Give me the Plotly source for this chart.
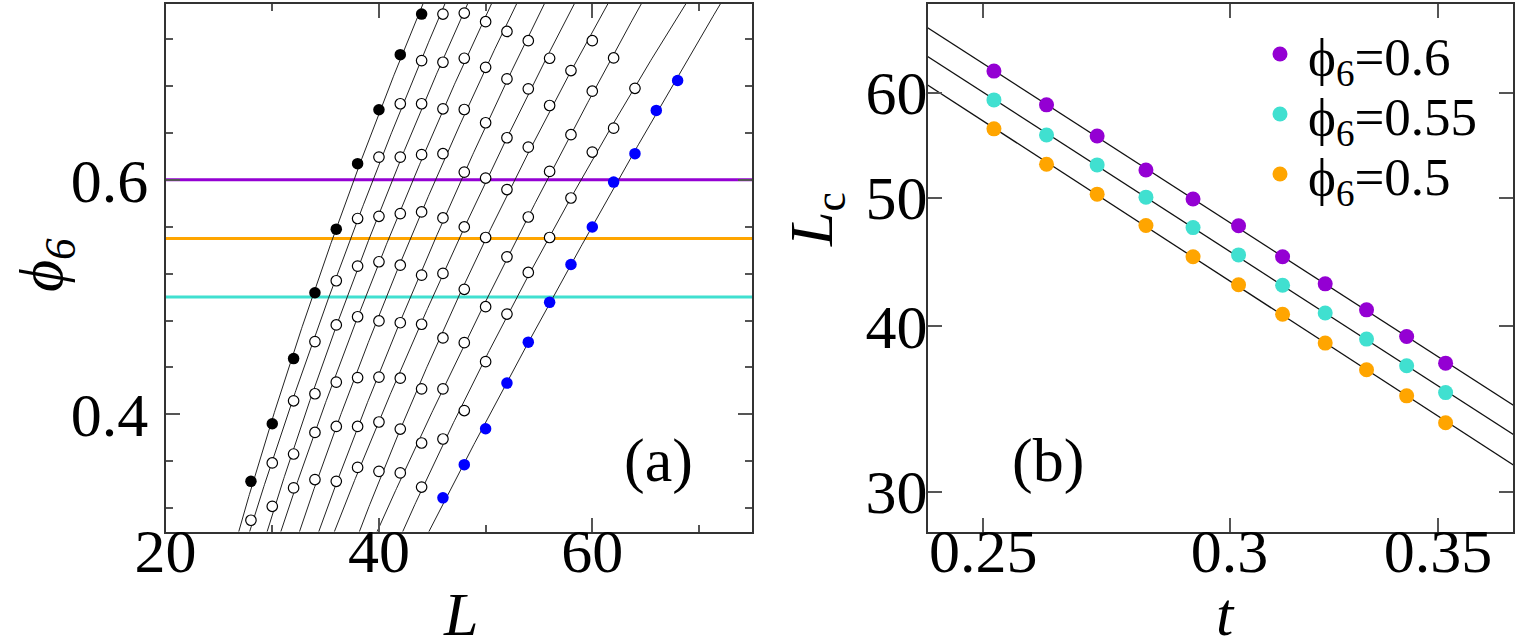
import numpy as np
import plotly.graph_objects as go

# ---------------- Panel (a): phi6 vs L for 11 temperatures ----------------
# t = 0.252 (blue filled) ... 0.352 (black filled); open circles in between
L_t0252 = [46, 48, 50, 52, 54, 56, 58, 60, 62, 64, 66, 68]
phi_t0252 = [0.3287, 0.3570, 0.3877, 0.4266, 0.4615, 0.4955, 0.5278, 0.5598, 0.5981, 0.6223, 0.6592, 0.6847]
L_t0262 = [44, 46, 48, 50, 52, 54, 56, 58, 60, 62, 64]
phi_t0262 = [0.3379, 0.3789, 0.4032, 0.4449, 0.4855, 0.5210, 0.5508, 0.5845, 0.6237, 0.6441, 0.6781]
L_t0272 = [42, 44, 46, 48, 50, 52, 54, 56, 58, 60, 62]
phi_t0272 = [0.3500, 0.3755, 0.4217, 0.4611, 0.4918, 0.5343, 0.5683, 0.6072, 0.6385, 0.6756, 0.7040]
L_t0282 = [40, 42, 44, 46, 48, 50, 52, 54, 56, 58, 60]
phi_t0282 = [0.3513, 0.3874, 0.4217, 0.4651, 0.5066, 0.5508, 0.5917, 0.6279, 0.6634, 0.6932, 0.7187]
L_t0292 = [38, 40, 42, 44, 46, 48, 50, 52, 54, 56]
phi_t0292 = [0.3547, 0.3934, 0.4308, 0.4768, 0.5202, 0.5598, 0.6015, 0.6359, 0.6776, 0.7037]
L_t0302 = [36, 38, 40, 42, 44, 46, 48, 50, 52, 54]
phi_t0302 = [0.3428, 0.3896, 0.4317, 0.4781, 0.5187, 0.5675, 0.6066, 0.6487, 0.6861, 0.7187]
L_t0312 = [34, 36, 38, 40, 42, 44, 46, 48, 50, 52]
phi_t0312 = [0.3443, 0.3896, 0.4313, 0.4796, 0.5272, 0.5726, 0.6223, 0.6600, 0.6960, 0.7266]
L_t0322 = [32, 34, 36, 38, 40, 42, 44, 46, 48, 50]
phi_t0322 = [0.3372, 0.3845, 0.4274, 0.4832, 0.5301, 0.5712, 0.6215, 0.6606, 0.7037, 0.7349]
L_t0332 = [30, 32, 34, 36, 38, 40, 42, 44, 46, 48]
phi_t0332 = [0.3215, 0.3661, 0.4175, 0.4762, 0.5264, 0.5689, 0.6194, 0.6649, 0.7003, 0.7423]
L_t0342 = [28, 30, 32, 34, 36, 38, 40, 42, 44, 46]
phi_t0342 = [0.3096, 0.3585, 0.4115, 0.4620, 0.5139, 0.5670, 0.6194, 0.6649, 0.7017, 0.7414]
L_t0352 = [28, 30, 32, 34, 36, 38, 40, 42, 44]
phi_t0352 = [0.3428, 0.3919, 0.4475, 0.5037, 0.5579, 0.6138, 0.6598, 0.7068, 0.7414]

curves_a = [
    (L_t0252, phi_t0252, "blue"),
    (L_t0262, phi_t0262, "open"),
    (L_t0272, phi_t0272, "open"),
    (L_t0282, phi_t0282, "open"),
    (L_t0292, phi_t0292, "open"),
    (L_t0302, phi_t0302, "open"),
    (L_t0312, phi_t0312, "open"),
    (L_t0322, phi_t0322, "open"),
    (L_t0332, phi_t0332, "open"),
    (L_t0342, phi_t0342, "open"),
    (L_t0352, phi_t0352, "black"),
]

# threshold levels drawn in (a)
thr_levels_a = [0.6, 0.55, 0.5]
thr_colors_a = ["#9400D3", "#FFA500", "#40E0D0"]

# ---------------- Panel (b): Lc vs t ----------------
t_vals = [0.252, 0.262, 0.272, 0.282, 0.292, 0.302, 0.312, 0.322, 0.332, 0.342, 0.352]
Lc_060 = [62.3, 58.75, 55.66, 52.47, 49.89, 47.62, 45.13, 43.05, 41.15, 39.29, 37.51]
Lc_055 = [59.26, 55.75, 52.93, 50.05, 47.47, 45.27, 42.95, 40.92, 39.11, 37.34, 35.64]
Lc_050 = [56.35, 52.99, 50.31, 47.64, 45.13, 42.98, 40.84, 38.84, 37.08, 35.44, 33.82]
series_b = [
    ("ϕ<sub>6</sub>=0.6", Lc_060, "#9400D3"),
    ("ϕ<sub>6</sub>=0.55", Lc_055, "#40E0D0"),
    ("ϕ<sub>6</sub>=0.5", Lc_050, "#FFA500"),
]

W, H = 1519, 638
FONT = "Liberation Serif"
fig = go.Figure()

# threshold lines (below traces)
for lev, col in zip(thr_levels_a, thr_colors_a):
    fig.add_shape(type="line", xref="x domain", yref="y", x0=0, x1=1, y0=lev, y1=lev,
                  line=dict(color=col, width=3), layer="below")

# fitted curves in (a): L as quadratic in phi
phi_grid = np.linspace(0.27, 0.78, 300)
for Ls, ph, kind in curves_a:
    c = np.polyfit(ph, Ls, 2)
    fig.add_trace(go.Scatter(x=np.polyval(c, phi_grid), y=phi_grid, mode="lines",
                             line=dict(color="#222222", width=1), showlegend=False,
                             hoverinfo="skip", xaxis="x", yaxis="y"))
for Ls, ph, kind in curves_a:
    if kind == "open":
        mk = dict(size=10.5, color="white", line=dict(color="black", width=1.2))
    elif kind == "black":
        mk = dict(size=11.5, color="black", line=dict(width=0))
    else:
        mk = dict(size=11.5, color="#0000FF", line=dict(width=0))
    fig.add_trace(go.Scatter(x=Ls, y=ph, mode="markers", marker=mk, showlegend=False,
                             xaxis="x", yaxis="y"))

# panel (b)
lt = np.log10(t_vals)
t_grid = np.geomspace(0.23, 0.38, 60)
for name, Lc, col in series_b:
    c = np.polyfit(lt, np.log10(Lc), 1)
    fig.add_trace(go.Scatter(x=t_grid, y=10 ** np.polyval(c, np.log10(t_grid)), mode="lines",
                             line=dict(color="#111111", width=1.3), showlegend=False,
                             hoverinfo="skip", xaxis="x2", yaxis="y2"))
legend_ids = ["legend", "legend2", "legend3"]
for (name, Lc, col), lg in zip(series_b, legend_ids):
    fig.add_trace(go.Scatter(x=t_vals, y=Lc, mode="markers", name=name, legend=lg,
                             marker=dict(size=15, color=col), xaxis="x2", yaxis="y2"))

x0a, x1a = 165.6 / W, 752.3 / W
x0b, x1b = 928.0 / W, 1513.0 / W
y0, y1 = 1 - 531.5 / H, 1 - 4.0 / H

tickfont = dict(family=FONT, size=62, color="black")
common = dict(showline=True, linecolor="#333333", linewidth=2, mirror="ticks",
              ticks="inside", ticklen=14, tickwidth=1.5, tickcolor="#555555",
              showgrid=False, zeroline=False, tickfont=tickfont, automargin=False)

leg_common = dict(xanchor="left", yanchor="middle", bgcolor="rgba(0,0,0,0)",
                  font=dict(family=FONT, size=53, color="black"), itemwidth=46,
                  itemsizing="trace")
fig.update_layout(
    width=W, height=H, margin=dict(l=0, r=0, t=0, b=0, autoexpand=False),
    paper_bgcolor="white", plot_bgcolor="white",
    xaxis=dict(domain=[x0a, x1a], range=[20, 75], tickmode="linear", tick0=20, dtick=20,
               minor=dict(tick0=20, dtick=10, ticklen=7, tickwidth=1.5, tickcolor="#555555", ticks="inside"),
               anchor="y", ticklabelstandoff=-36, **common),
    yaxis=dict(domain=[y0, y1], range=[0.3, 0.75], tickmode="linear", tick0=0, dtick=0.2,
               minor=dict(tick0=0, dtick=0.04, ticklen=7, tickwidth=1.5, tickcolor="#555555", ticks="inside"),
               anchor="x", ticklabelstandoff=3, **common),
    xaxis2=dict(domain=[x0b, x1b], type="log", range=[np.log10(0.24), np.log10(0.37)],
                tickvals=[0.25, 0.3, 0.35], ticktext=["0.25", "0.3", "0.35"], anchor="y2",
                ticklabelstandoff=-36, **common),
    yaxis2=dict(domain=[y0, y1], type="log", range=[np.log10(28), np.log10(70)],
                tickvals=[30, 40, 50, 60], ticktext=["30", "40", "50", "60"], anchor="x2",
                ticklabelstandoff=-14, **common),
    legend=dict(x=1252 / W, y=1 - 54 / H, **leg_common),
    legend2=dict(x=1252 / W, y=1 - 114 / H, **leg_common),
    legend3=dict(x=1252 / W, y=1 - 174 / H, **leg_common),
    showlegend=True,
)

ann_font = dict(family=FONT, size=62, color="black")
anns = [
    dict(text="<i>ϕ<sub>6</sub></i>", x=45 / W, y=1 - 265 / H, textangle=-90),
    dict(text="<i>L</i>", x=460 / W, y=1 - 614 / H),
    dict(text="<i>L</i><sub>c</sub>", x=815 / W, y=1 - 220 / H, textangle=-90),
    dict(text="<i>t</i>", x=1225 / W, y=1 - 614 / H),
    dict(text="(a)", x=658 / W, y=1 - 460 / H),
    dict(text="(b)", x=1048 / W, y=1 - 460 / H),
]
for a in anns:
    fig.add_annotation(xref="paper", yref="paper", showarrow=False, font=ann_font,
                       xanchor="center", yanchor="middle", **a)

fig.write_html("out.html")
